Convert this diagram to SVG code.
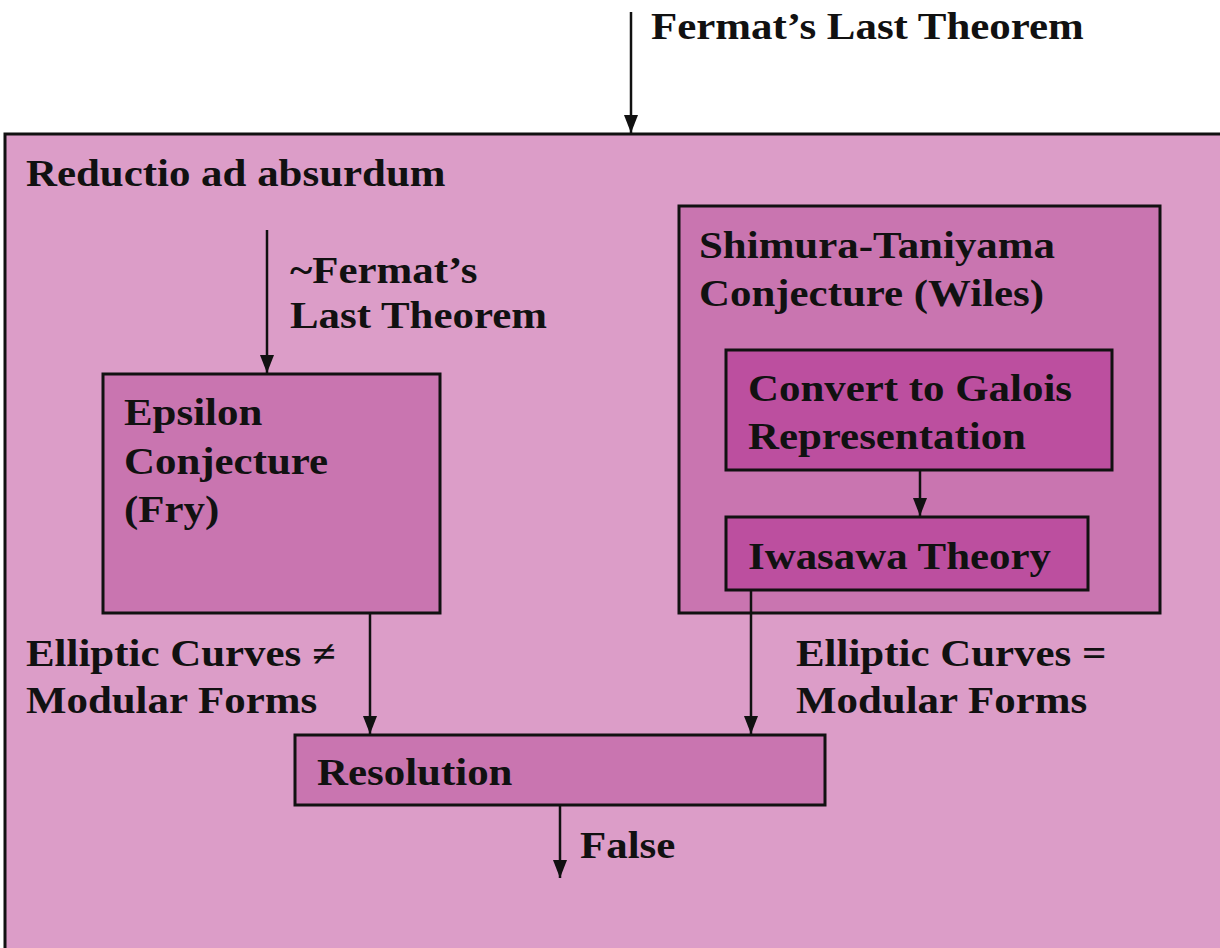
<svg xmlns="http://www.w3.org/2000/svg" width="1220" height="948" viewBox="0 0 1220 948">
<style>
text{font-family:"Liberation Serif","Times New Roman",serif;font-weight:bold;font-size:37px;fill:#111;transform:scaleX(1.16)}
.b{stroke:#111;stroke-width:3}
.c{stroke:#111;stroke-width:2.5;fill:none}
</style>
<defs>
<marker id="ah" markerWidth="18" markerHeight="14" refX="18" refY="7" orient="auto" markerUnits="userSpaceOnUse" viewBox="0 0 18 14">
<path d="M0,0 L18,7 L0,14 Z" fill="#111"/>
</marker>
</defs>
<rect width="1220" height="948" fill="#fff"/>
<g id="outer">
<rect x="5" y="134" width="1230" height="830" fill="#DC9DC8" class="b"/>
<text x="22.4" y="186">Reductio ad absurdum</text>
</g>
<g id="epsilon">
<rect x="103" y="374" width="337" height="239" fill="#C975B0" class="b"/>
<text x="106.9" y="425">Epsilon</text>
<text x="106.9" y="474">Conjecture</text>
<text x="106.9" y="522">(Fry)</text>
</g>
<g id="shimura">
<rect x="679" y="206" width="481" height="407" fill="#C975B0" class="b"/>
<text x="602.6" y="258">Shimura-Taniyama</text>
<text x="602.6" y="306">Conjecture (Wiles)</text>
</g>
<g id="convert">
<rect x="726" y="350" width="386" height="120" fill="#BC4F9F" class="b"/>
<text x="644.8" y="401">Convert to Galois</text>
<text x="644.8" y="449">Representation</text>
</g>
<g id="iwasawa">
<rect x="726" y="517" width="362" height="73" fill="#BC4F9F" class="b"/>
<text x="644.8" y="569">Iwasawa Theory</text>
</g>
<g id="resolution">
<rect x="295" y="735" width="530" height="70" fill="#C975B0" class="b"/>
<text x="273.3" y="785">Resolution</text>
</g>
<g id="connectors">
<path class="c" d="M631,12 V133" marker-end="url(#ah)"/>
<path class="c" d="M267,230 V373" marker-end="url(#ah)"/>
<path class="c" d="M920,471 V516" marker-end="url(#ah)"/>
<path class="c" d="M370,614 V734" marker-end="url(#ah)"/>
<path class="c" d="M751,591 V734" marker-end="url(#ah)"/>
<path class="c" d="M560,806 V878" marker-end="url(#ah)"/>
</g>
<g id="labels">
<text x="561.2" y="39">Fermat’s Last Theorem</text>
<text x="250" y="283">~Fermat’s</text>
<text x="250" y="328">Last Theorem</text>
<text x="22.4" y="666">Elliptic Curves ≠</text>
<text x="22.4" y="713">Modular Forms</text>
<text x="686.2" y="666">Elliptic Curves =</text>
<text x="686.2" y="713">Modular Forms</text>
<text x="500" y="858">False</text>
</g>
</svg>
